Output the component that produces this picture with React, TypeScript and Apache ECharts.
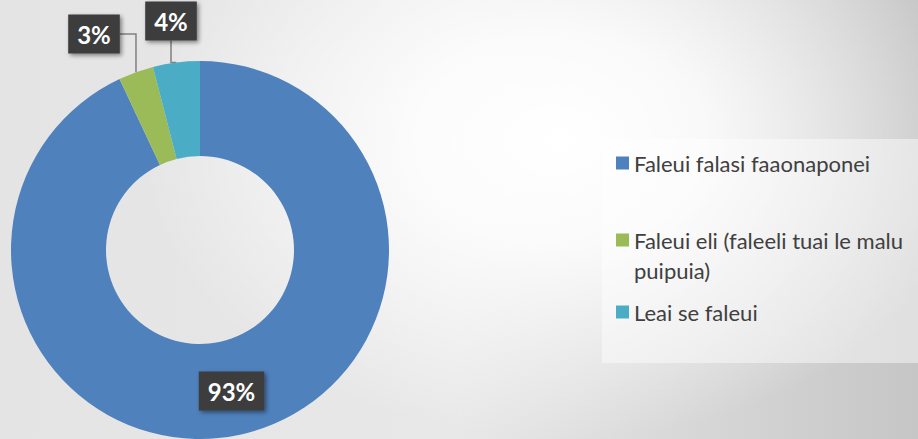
import React, { useEffect, useRef } from 'react';
import * as echarts from 'echarts';

const categories = [
  'Faleui falasi faaonaponei',
  'Faleui eli (faleeli tuai le malu puipuia)',
  'Leai se faleui',
];
const values = [93, 3, 4];
const colors = ['#4F81BD', '#9BBB59', '#4BACC6'];
const legendLabels = [
  'Faleui falasi faaonaponei',
  ' \nFaleui eli (faleeli tuai le malu\npuipuia)',
  'Leai se faleui',
];
const legendTops = [148, 195, 297];
const labelPositions: ([number, number] | null)[] = [null, [94, 34], [171, 21]];

export default function App() {
  const ref = useRef<HTMLDivElement>(null);
  useEffect(() => {
    if (!ref.current) return;
    const chart = echarts.init(ref.current, undefined, { renderer: 'svg' });
    const option: any = {
      animation: false,
      backgroundColor: 'transparent',
      graphic: [
        {
          type: 'rect',
          left: 602,
          top: 139,
          z: -10,
          shape: { width: 316, height: 224 },
          style: { fill: 'rgba(255,255,255,0.45)' },
          silent: true,
        },
      ],
      legend: categories.map((name, i) => ({
        data: [name],
        orient: 'vertical',
        left: 616,
        top: legendTops[i],
        padding: 0,
        itemWidth: 13,
        itemHeight: 13,
        icon: 'rect',
        selectedMode: false,
        formatter: () => legendLabels[i],
        textStyle: {
          fontFamily: 'Lato',
          fontSize: 22,
          color: '#404040',
          lineHeight: 30,
        },
      })),
      series: [
        {
          type: 'pie',
          center: [200, 250],
          radius: [94, 189],
          startAngle: 90,
          clockwise: true,
          avoidLabelOverlap: false,
          silent: true,
          label: {
            show: true,
            formatter: (p: any) => p.value + '%',
            fontFamily: 'Lato',
            fontWeight: 'bold',
            fontSize: 24,
            color: '#ffffff',
            backgroundColor: '#3d3d3d',
            padding: [8, 9, 7, 9],
            shadowBlur: 4,
            shadowOffsetX: 2,
            shadowOffsetY: 2,
            shadowColor: 'rgba(0,0,0,0.45)',
          },
          labelLine: {
            show: true,
            length: 10,
            length2: 40,
            lineStyle: { color: '#808080', width: 1.5 },
          },
          labelLayout: (params: any) => {
            const pos = labelPositions[params.dataIndex];
            if (!pos) return {};
            return { x: pos[0], y: pos[1], align: 'center', verticalAlign: 'middle' };
          },
          data: categories.map((name, i) => ({
            name,
            value: values[i],
            itemStyle: { color: colors[i] },
            label: { position: i === 0 ? 'inside' : 'outside' },
            labelLine: { show: i !== 0 },
          })),
        },
      ],
    };
    chart.setOption(option);
    return () => chart.dispose();
  }, []);
  return (
    <div
      style={{
        position: 'fixed',
        left: 0,
        top: 0,
        width: 918,
        height: 439,
        background:
          'radial-gradient(ellipse 420px 300px at 560px 140px, #ffffff 0%, rgba(255,255,255,0.85) 35%, rgba(255,255,255,0) 100%), linear-gradient(90deg, #e4e4e4 0%, #e8e8e8 50%, #d4d4d4 80%, #c6c6c6 100%)',
      }}
    >
      <div ref={ref} style={{ width: 918, height: 439 }} />
    </div>
  );
}
